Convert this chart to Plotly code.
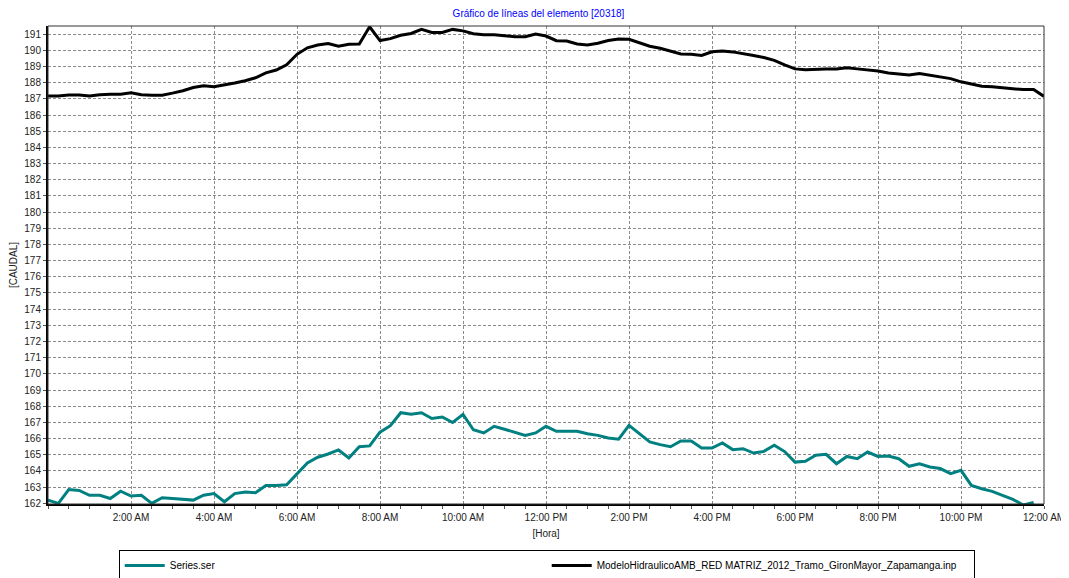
import plotly.graph_objects as go

# time in hours (15-min steps)
hours_black = [i * 0.25 for i in range(97)]
hours_teal = [i * 0.25 for i in range(96)]

black_values = [
    187.17, 187.17, 187.23, 187.23, 187.17, 187.25, 187.28, 187.28,
    187.38, 187.25, 187.22, 187.22, 187.35, 187.5, 187.7, 187.8,
    187.75, 187.85, 187.98, 188.12, 188.3, 188.6, 188.78, 189.1,
    189.75, 190.15, 190.32, 190.42, 190.25, 190.37, 190.38, 191.45,
    190.6, 190.72, 190.93, 191.04, 191.29, 191.1, 191.1, 191.29,
    191.2, 191.02, 190.96, 190.96, 190.88, 190.84, 190.84, 191.0,
    190.88, 190.59, 190.57, 190.39, 190.33, 190.43, 190.6, 190.7,
    190.68, 190.45, 190.25, 190.12, 189.96, 189.77, 189.75, 189.68,
    189.91, 189.95, 189.9, 189.8, 189.68, 189.55, 189.38, 189.1,
    188.85, 188.8, 188.84, 188.84, 188.84, 188.92, 188.85, 188.78,
    188.72, 188.6, 188.52, 188.47, 188.57, 188.47, 188.36, 188.25,
    188.05, 187.9, 187.78, 187.74, 187.7, 187.62, 187.57, 187.57,
    187.15,
]

teal_values = [
    162.2, 162.0, 162.85, 162.8, 162.5, 162.5, 162.3, 162.75,
    162.45, 162.5, 162.0, 162.35, 162.3, 162.25, 162.2, 162.5,
    162.6, 162.1, 162.6, 162.7, 162.65, 163.1, 163.1, 163.15,
    163.8, 164.5, 164.85, 165.05, 165.3, 164.8, 165.5, 165.55,
    166.4, 166.8, 167.6, 167.5, 167.6, 167.24, 167.34, 167.0,
    167.5, 166.55, 166.35, 166.76, 166.58, 166.37, 166.2, 166.35,
    166.76, 166.45, 166.45, 166.45, 166.3, 166.2, 166.04, 165.96,
    166.82, 166.3, 165.8, 165.63, 165.5, 165.85, 165.85, 165.42,
    165.42, 165.73, 165.32, 165.38, 165.11, 165.21, 165.59, 165.2,
    164.55, 164.6, 164.97, 165.03, 164.45, 164.9, 164.76, 165.17,
    164.9, 164.92, 164.76, 164.29, 164.45, 164.25, 164.15, 163.84,
    164.04, 163.11, 162.9, 162.74, 162.5, 162.25, 161.9, 162.05,
]

x_tick_vals = [0, 2, 4, 6, 8, 10, 12, 14, 16, 18, 20, 22, 24]
x_tick_text = ["", "2:00 AM", "4:00 AM", "6:00 AM", "8:00 AM", "10:00 AM", "12:00 PM",
               "2:00 PM", "4:00 PM", "6:00 PM", "8:00 PM", "10:00 PM", "12:00 AM"]
y_tick_vals = list(range(162, 192))

series_names = ["Series.ser",
                "ModeloHidraulicoAMB_RED MATRIZ_2012_Tramo_GironMayor_Zapamanga.inp"]

FONT = "Liberation Sans, Arial, sans-serif"

fig = go.Figure()
fig.add_trace(go.Scatter(x=hours_teal, y=teal_values, mode="lines",
                         name=series_names[0],
                         line=dict(color="#008080", width=3)))
fig.add_trace(go.Scatter(x=hours_black, y=black_values, mode="lines",
                         name=series_names[1],
                         line=dict(color="#000000", width=3)))

fig.update_layout(
    width=1061, height=570,
    margin=dict(l=40, r=25, t=18, b=74, autoexpand=False),
    paper_bgcolor="white", plot_bgcolor="white",
    font=dict(family=FONT, size=10, color="#222222"),
    title=dict(text="Gráfico de líneas del elemento [20318]",
               font=dict(family=FONT, size=10, color="#0000FF"),
               x=0.5, xanchor="center", y=0.99, yanchor="middle"),
    showlegend=True,
    legend=dict(orientation="h", x=0.071, xanchor="left",
                y=-0.096, yanchor="top",
                bordercolor="#000000", borderwidth=1, bgcolor="white",
                entrywidth=372, entrywidthmode="pixels",
                font=dict(family=FONT, size=10, color="#000000"),
                tracegroupgap=0, itemwidth=40),
)

fig.update_xaxes(
    range=[0, 24], tickvals=x_tick_vals, ticktext=x_tick_text,
    automargin=False,
    showgrid=True, gridcolor="#8a8a8a", griddash="3px,2px", gridwidth=1,
    showline=True, linecolor="#000000", linewidth=2,
    ticks="outside", ticklen=3, tickcolor="#555555",
    minor=dict(dtick=0.5, tick0=0, ticks="outside", ticklen=3, tickcolor="#555555", showgrid=False),
    zeroline=False,
    title=dict(text="[Hora]", font=dict(family=FONT, size=10, color="#222222"), standoff=8),
)
fig.update_yaxes(
    range=[161.96, 191.5], tickvals=y_tick_vals,
    automargin=False,
    showgrid=True, gridcolor="#8a8a8a", griddash="3px,2px", gridwidth=1,
    showline=True, linecolor="#000000", linewidth=2,
    ticks="outside", ticklen=3, tickcolor="#555555",
    zeroline=False,
    title=dict(text="[CAUDAL]", font=dict(family=FONT, size=10, color="#222222"), standoff=6),
)

# thin frame on top/right
fig.add_shape(type="rect", xref="paper", yref="paper", x0=0, y0=0, x1=1, y1=1,
              line=dict(color="#333333", width=1), layer="above")

fig.write_html("out.html")
